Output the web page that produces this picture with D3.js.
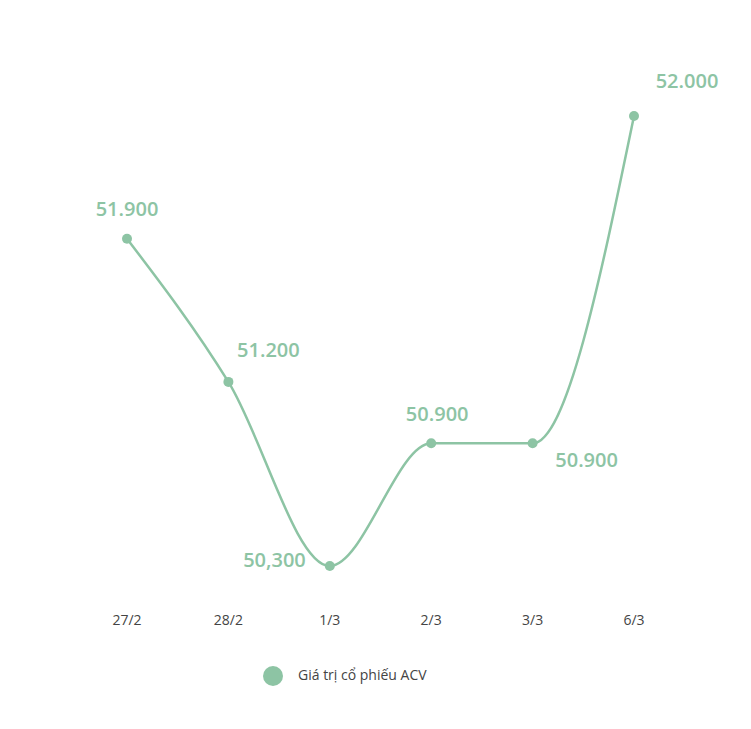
<!DOCTYPE html>
<html><head><meta charset="utf-8">
<script src="https://cdn.jsdelivr.net/npm/d3@7"></script>
<style>body{margin:0;background:#fff;font-family:"Open Sans",sans-serif}</style>
</head><body>
<script>
const dates = ["27/2", "28/2", "1/3", "2/3", "3/3", "6/3"];
// plotted heights as drawn in the picture
const values = [51900, 51200, 50300, 50900, 50900, 52500];
const labels = ["51.900", "51.200", "50,300", "50.900", "50.900", "52.000"];
// label offsets [dx, dy, anchor]
const labelPos = [[0, -28, "middle"], [40, -30, "middle"], [-24, -4, "end"], [6, -28, "middle"], [54, 18, "middle"], [53, -33, "middle"]];
const seriesName = "Giá trị cổ phiếu ACV";
const color = "#8dc4a4";

const w = 751, h = 729;
const svg = d3.select("body").append("svg").attr("width", w).attr("height", h);

const x = d3.scalePoint().domain(dates).range([127, 634]);
const y = d3.scaleLinear().domain([50300, 52500]).range([566, 116]);

const data = dates.map((d, i) => ({d, v: values[i], l: labels[i], p: labelPos[i]}));

svg.append("path")
  .attr("d", d3.line().x(d => x(d.d)).y(d => y(d.v)).curve(d3.curveMonotoneX)(data))
  .attr("fill", "none").attr("stroke", color).attr("stroke-width", 2.5);

svg.selectAll("circle.pt").data(data).join("circle").attr("class", "pt")
  .attr("cx", d => x(d.d)).attr("cy", d => y(d.v)).attr("r", 5).attr("fill", color);

svg.selectAll("text.lbl").data(data).join("text").attr("class", "lbl")
  .attr("x", d => x(d.d) + d.p[0]).attr("y", d => y(d.v) + d.p[1])
  .attr("text-anchor", d => d.p[2]).attr("dominant-baseline", "middle")
  .attr("font-size", 20).attr("font-weight", 600).attr("fill", color)
  .text(d => d.l);

svg.selectAll("text.ax").data(dates).join("text").attr("class", "ax")
  .attr("x", d => x(d)).attr("y", 621).attr("text-anchor", "middle")
  .attr("dominant-baseline", "middle").attr("font-size", 14).attr("fill", "#444")
  .text(d => d);

svg.append("circle").attr("cx", 273).attr("cy", 676).attr("r", 10).attr("fill", color);
svg.append("text").attr("x", 298).attr("y", 676).attr("dominant-baseline", "middle")
  .attr("font-size", 14).attr("fill", "#444").text(seriesName);
</script>
</body></html>
